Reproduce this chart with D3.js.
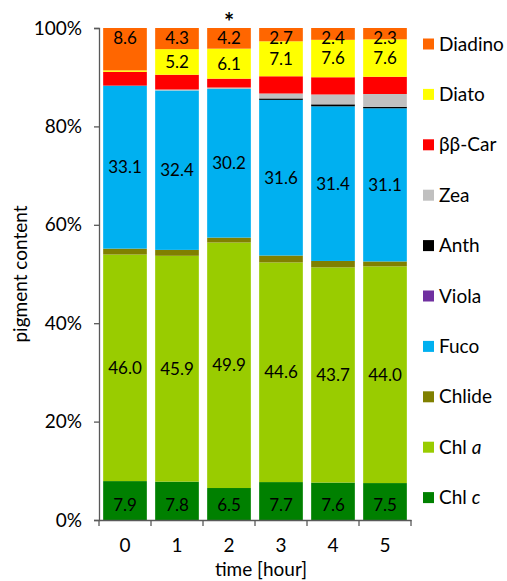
<!DOCTYPE html>
<html>
<head>
<meta charset="utf-8">
<script src="https://cdn.jsdelivr.net/npm/d3@7"></script>
<style>
  body { margin: 0; background: #fff; }
  svg text { font-family: Lato, 'Open Sans', sans-serif; fill: #000; }
</style>
</head>
<body>
<svg id="chart"></svg>
<script>
const hours = ['0', '1', '2', '3', '4', '5'];

// pigment shares per hour, bottom of the stack first
const chlC = [7.9, 7.8, 6.5, 7.7, 7.6, 7.5];
const chlA = [46.0, 45.9, 49.9, 44.6, 43.7, 44.0];
const chlide = [1.2, 1.2, 1.0, 1.4, 1.3, 1.0];
const fuco = [33.1, 32.4, 30.2, 31.6, 31.4, 31.1];
const viola = [0, 0, 0, 0, 0, 0];
const anth = [0, 0, 0, 0.3, 0.4, 0.3];
const zea = [0, 0.2, 0.3, 1.0, 2.0, 2.6];
const bbCar = [2.8, 3.0, 1.8, 3.5, 3.5, 3.5];
const diato = [0.3, 5.2, 6.1, 7.1, 7.6, 7.6];
const diadino = [8.6, 4.3, 4.2, 2.7, 2.4, 2.3];

const pigments = ['Chl c', 'Chl a', 'Chlide', 'Fuco', 'Viola', 'Anth', 'Zea', 'ββ-Car', 'Diato', 'Diadino'];
const seriesValues = [chlC, chlA, chlide, fuco, viola, anth, zea, bbCar, diato, diadino];
const yTicks = [0, 0.2, 0.4, 0.6, 0.8, 1];
const significant = ['2'];

const colors = {
  'Chl c': '#008000',
  'Chl a': '#99cc00',
  'Chlide': '#808000',
  'Fuco': '#00b0f0',
  'Viola': '#7030a0',
  'Anth': '#000000',
  'Zea': '#c0c0c0',
  'ββ-Car': '#ff0000',
  'Diato': '#ffff00',
  'Diadino': '#ff6600'
};
// where the value labels sit inside a segment
const labelPos = { 'Chl c': 'base', 'Chl a': 'center', 'Fuco': 'center', 'Diato': 'center', 'Diadino': 'end' };

const width = 507, height = 581;
const margin = { top: 28, right: 96, bottom: 61, left: 99 };
const fontSize = 19;

const svg = d3.select('#chart').attr('width', width).attr('height', height);

const rows = hours.map((h, i) => {
  const row = { hour: h };
  pigments.forEach((p, k) => { row[p] = seriesValues[k][i]; });
  return row;
});

const stacked = d3.stack().keys(pigments).offset(d3.stackOffsetExpand)(rows);

const x = d3.scaleBand()
  .domain(hours)
  .range([margin.left, width - margin.right])
  .paddingInner(0.16)
  .paddingOuter(0.08);

const y = d3.scaleLinear().domain([0, 1]).range([height - margin.bottom, margin.top]);

// bars
const layer = svg.append('g').selectAll('g')
  .data(stacked)
  .join('g')
  .attr('fill', d => colors[d.key]);

layer.selectAll('rect')
  .data(d => d)
  .join('rect')
  .attr('x', d => x(d.data.hour))
  .attr('width', x.bandwidth())
  .attr('y', d => y(d[1]))
  .attr('height', d => y(d[0]) - y(d[1]));

// value labels
stacked.forEach(s => {
  const pos = labelPos[s.key];
  if (!pos) return;
  svg.append('g').selectAll('text')
    .data(s.filter(d => d.data[s.key] >= 1))
    .join('text')
    .attr('x', d => x(d.data.hour) + x.bandwidth() / 2)
    .attr('y', d => {
      if (pos === 'base') return y(d[0]) - 15;
      if (pos === 'end') return y(d[1]) + 10;
      return (y(d[0]) + y(d[1])) / 2;
    })
    .attr('dy', '0.35em')
    .attr('text-anchor', 'middle')
    .attr('font-size', 17)
    .text(d => d.data[s.key].toFixed(1));
});

// significance mark
svg.append('g').selectAll('text')
  .data(significant)
  .join('text')
  .attr('x', d => x(d) + x.bandwidth() / 2)
  .attr('y', 31)
  .attr('text-anchor', 'middle')
  .attr('font-size', 24)
  .attr('font-weight', 'bold')
  .text('*');

// axes
const axisColor = '#595959';

const yAxis = svg.append('g')
  .attr('transform', `translate(${margin.left},0)`)
  .call(d3.axisLeft(y).tickValues(yTicks).tickFormat(d3.format('.0%')).tickSize(5).tickPadding(12));
yAxis.select('.domain').attr('stroke', axisColor).attr('stroke-width', 1.3);
yAxis.selectAll('.tick line').attr('stroke', axisColor).attr('stroke-width', 1.3);
yAxis.selectAll('.tick text').attr('font-size', fontSize).attr('font-family', 'Lato, sans-serif').attr('fill', '#000');

const xAxis = svg.append('g')
  .attr('transform', `translate(0,${height - margin.bottom})`)
  .call(d3.axisBottom(x).tickSize(0).tickPadding(19));
xAxis.select('.domain').attr('stroke', axisColor).attr('stroke-width', 1.3);
xAxis.selectAll('.tick text').attr('font-size', fontSize).attr('font-family', 'Lato, sans-serif').attr('fill', '#000');

// boundary ticks between categories
const bounds = d3.range(hours.length + 1).map(i => margin.left + i * (width - margin.right - margin.left) / hours.length);
xAxis.selectAll('.bound')
  .data(bounds)
  .join('line')
  .attr('x1', d => d).attr('x2', d => d)
  .attr('y1', 0).attr('y2', 6)
  .attr('stroke', axisColor)
  .attr('stroke-width', 1.3);

svg.append('text')
  .attr('x', 261)
  .attr('y', height - 5)
  .attr('text-anchor', 'middle')
  .attr('font-size', fontSize)
  .text('time [hour]');

svg.append('text')
  .attr('transform', `translate(27,${(margin.top + height - margin.bottom) / 2}) rotate(-90)`)
  .attr('text-anchor', 'middle')
  .attr('font-size', fontSize)
  .text('pigment content');

// legend, top of stack first
const legendKeys = pigments.slice().reverse();
const legend = svg.append('g').selectAll('g')
  .data(legendKeys)
  .join('g')
  .attr('transform', (d, i) => `translate(423,${44 + i * 50.4})`);

legend.append('rect')
  .attr('x', 0).attr('y', -5.5)
  .attr('width', 11).attr('height', 11)
  .attr('fill', d => colors[d]);

legend.append('text')
  .attr('x', 16)
  .attr('dy', '0.35em')
  .attr('font-size', fontSize)
  .each(function(d) {
    const t = d3.select(this);
    const m = d.match(/^Chl ([ac])$/);
    if (m) {
      t.append('tspan').text('Chl ');
      t.append('tspan').attr('font-style', 'italic').text(m[1]);
    } else {
      t.text(d);
    }
  });
</script>
</body>
</html>
